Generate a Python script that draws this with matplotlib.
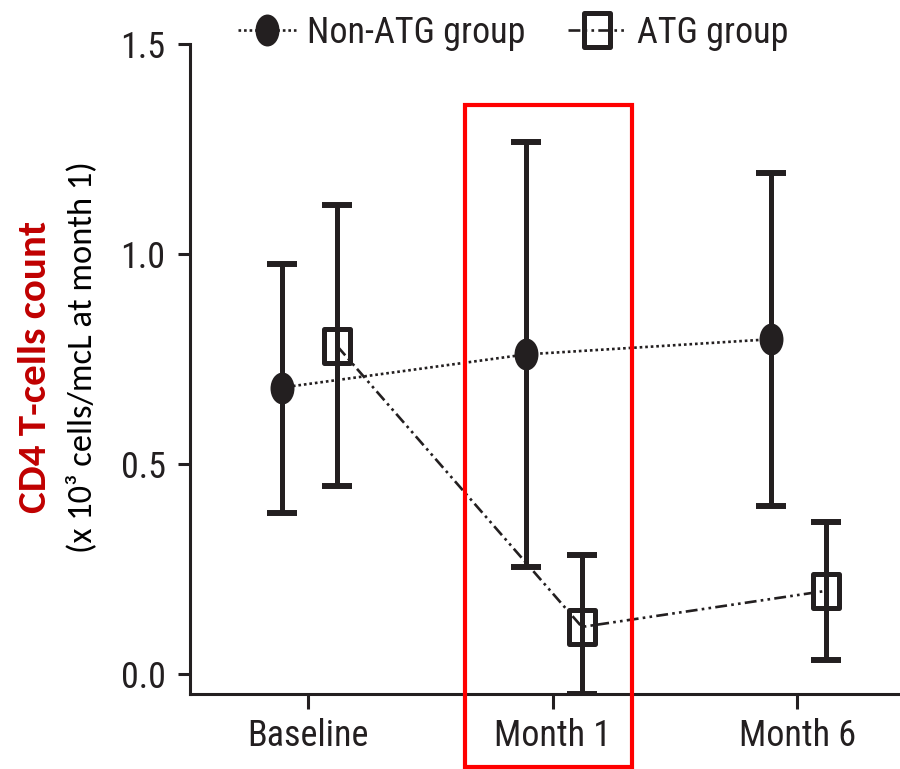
import numpy as np
import matplotlib.pyplot as plt
from matplotlib.path import Path
from matplotlib.transforms import Affine2D
from matplotlib.patches import Rectangle

# time points
categories = ["Baseline", "Month 1", "Month 6"]

# Non-ATG group: mean and error bar ends
non_atg_mean = [0.682, 0.761, 0.797]
non_atg_low = [0.384, 0.255, 0.401]
non_atg_high = [0.975, 1.266, 1.192]

# ATG group
atg_mean = [0.780, 0.112, 0.198]
atg_low = [0.448, -0.048, 0.033]
atg_high = [1.116, 0.284, 0.363]

yticks = [0.0, 0.5, 1.0, 1.5]

INK = "#231f20"
TICK_FONT = ["Roboto Condensed", "Archivo Narrow", "DejaVu Sans"]
LABEL_FONT = ["Carlito", "Lato", "DejaVu Sans"]

# tall ellipse / tall rectangle markers like the original
ellipse = Path.unit_circle().transformed(Affine2D().scale(0.75, 1.0))
rect = Path([(-0.37, -0.5), (0.37, -0.5), (0.37, 0.5), (-0.37, 0.5), (-0.37, -0.5)],
            [Path.MOVETO, Path.LINETO, Path.LINETO, Path.LINETO, Path.CLOSEPOLY])

fig = plt.figure(figsize=(9, 7.69), dpi=100)
ax = fig.add_axes([190 / 900, 75 / 769, 710 / 900, 650 / 769])

x = np.arange(len(categories))
x_non = x - 0.107
x_atg = x + 0.12

def yerr(mean, low, high):
    m = np.array(mean)
    return [m - np.array(low), np.array(high) - m]

eb = dict(fmt="none", ecolor=INK, elinewidth=3.6, capsize=10.8, capthick=4.3, zorder=3)
ax.errorbar(x_non, non_atg_mean, yerr=yerr(non_atg_mean, non_atg_low, non_atg_high), **eb)
ax.errorbar(x_atg, atg_mean, yerr=yerr(atg_mean, atg_low, atg_high), **eb)

l1, = ax.plot(x_non, non_atg_mean, color=INK, lw=1.9, linestyle=(0, (1, 1.1)),
              marker=ellipse, markersize=23, markerfacecolor=INK, markeredgecolor=INK,
              markeredgewidth=0, zorder=4, label="Non-ATG group")
l2, = ax.plot(x_atg, atg_mean, color=INK, lw=1.9, linestyle=(0, (4.5, 1.6, 1, 1.6, 1, 1.6)),
              marker=rect, markersize=24.5, markerfacecolor="none", markeredgecolor=INK,
              markeredgewidth=3.6, zorder=4, label="ATG group")

for ln in (l1, l2):
    ln.set_clip_on(False)

ax.set_xlim(-0.483, 2.421)
ax.set_ylim(-0.0477, 1.5)

ax.spines["top"].set_visible(False)
ax.spines["right"].set_visible(False)
ax.spines["left"].set_bounds(-0.0477, 1.5)
for s in ("left", "bottom"):
    ax.spines[s].set_linewidth(2.2)
    ax.spines[s].set_color(INK)

ax.set_xticks(x)
ax.set_xticklabels(categories)
ax.set_yticks(yticks)
ax.set_yticklabels([f"{v:.1f}" for v in yticks])
ax.tick_params(axis="y", length=8.6, width=2.2, color=INK, pad=9, labelsize=26, labelcolor=INK)
ax.tick_params(axis="x", length=10.5, width=2.2, color=INK, pad=7, labelsize=26, labelcolor=INK)
for lab in ax.get_xticklabels() + ax.get_yticklabels():
    lab.set_family(TICK_FONT)

# highlight box around Month 1
ax.add_patch(Rectangle((0.642, -0.222), 0.683, 1.577, fill=False, edgecolor="#ff0000",
                       linewidth=3.0, clip_on=False, zorder=5))

leg = fig.legend(handles=[l1, l2], loc="center left", bbox_to_anchor=(238 / 900, 1 - 33 / 769),
                 ncol=2, frameon=False, handlelength=1.6, handletextpad=0.3,
                 columnspacing=1.2, borderpad=0, borderaxespad=0,
                 prop={"family": TICK_FONT, "size": 26})
for t in leg.get_texts():
    t.set_color(INK)

fig.text(35 / 900, 1 - 367 / 769, "CD4 T-cells count", rotation=90, ha="center", va="center",
         color="#c00000", fontsize=29.5, fontweight="bold", family=LABEL_FONT)
fig.text(82 / 900, 1 - 357 / 769, "(x 10³ cells/mcL at month 1)", rotation=90, ha="center",
         va="center", color="black", fontsize=24.8, family=LABEL_FONT)

fig.savefig("out.png", dpi=100)
